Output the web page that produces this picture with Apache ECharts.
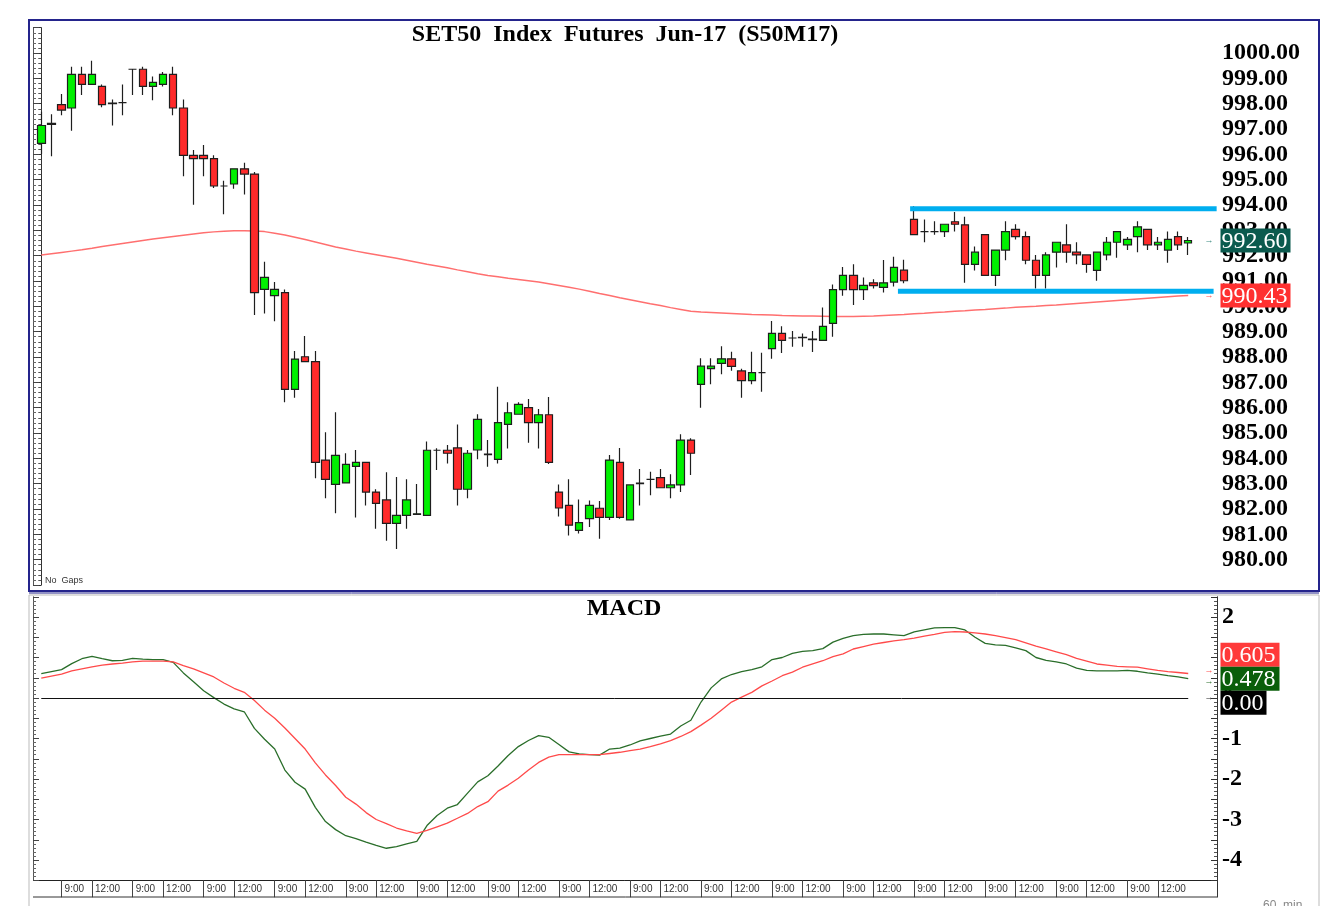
<!DOCTYPE html>
<html>
<head>
<meta charset="utf-8">
<script src="https://cdn.jsdelivr.net/npm/echarts@6/dist/echarts.min.js"></script>
<style>
html, body { margin: 0; padding: 0; background: #fff; }
#main { width: 1334px; height: 906px; }
</style>
</head>
<body>
<div id="main"></div>
<script>
// hourly bars, 2 bars of the previous afternoon then 16 full days
const firstBars = ['15:00', '16:00']
const dayHours = ['9:00', '10:00', '11:00', '12:00', '14:00', '15:00', '16:00']
const dayCount = 16

const opens = [996.43,997.18,997.96,997.83,999.16,998.76,998.68,998.00,998.04,999.36,
  999.36,998.68,998.76,999.16,997.83,995.96,995.96,995.83,994.75,994.83,
  995.43,995.22,990.67,990.42,990.54,986.72,988.01,987.82,983.93,982.97,
  983.03,983.68,983.84,982.67,982.36,981.43,981.75,981.79,981.75,984.32,
  984.32,984.41,982.78,984.33,984.17,983.96,985.34,985.74,986.00,985.41,
  985.72,982.67,982.14,981.16,981.62,982.03,981.67,983.84,981.57,983.00,
  983.17,983.24,982.84,982.95,984.72,986.92,987.54,987.75,987.93,987.45,
  987.07,987.38,988.33,988.93,988.75,988.76,988.71,988.66,989.33,990.66,
  991.22,990.66,990.93,990.75,990.96,991.43,993.43,992.95,992.95,992.95,
  993.34,993.22,991.66,992.83,991.22,992.22,993.04,992.75,991.82,991.22,
  992.14,992.43,992.14,992.03,991.42,992.03,992.53,992.43,992.75,993.04,
  992.43,992.22,992.75,992.50]
const closes = [997.14,997.22,997.75,999.16,998.76,999.16,997.96,998.02,998.04,999.36,
  998.68,998.84,999.16,997.83,995.96,995.83,995.83,994.75,994.75,995.43,
  995.22,990.54,991.14,990.67,986.72,987.92,987.82,983.84,983.17,984.12,
  983.76,983.84,982.67,982.22,981.43,981.75,982.36,981.81,984.32,984.32,
  984.20,982.78,984.20,985.54,984.15,985.41,985.80,986.13,985.41,985.72,
  983.84,982.04,981.36,981.46,982.14,981.67,983.93,981.67,982.95,983.02,
  983.17,982.84,982.95,984.72,984.20,987.64,987.64,987.93,987.63,987.07,
  987.38,987.38,988.93,988.66,988.75,988.78,988.69,989.21,990.66,991.22,
  990.66,990.83,990.82,990.93,991.54,991.01,992.83,992.95,992.95,993.24,
  993.24,991.66,992.14,991.22,992.22,992.95,992.75,991.82,991.22,992.03,
  992.53,992.14,992.03,991.66,992.14,992.53,992.95,992.64,993.14,992.43,
  992.53,992.64,992.43,992.60]
const lows = [996.01,995.93,997.54,996.93,998.34,998.76,997.86,997.14,997.54,998.34,
  998.34,998.14,998.68,997.54,995.14,994.01,995.14,994.67,993.64,994.64,
  994.42,989.66,989.72,989.41,986.21,986.39,987.82,983.21,982.42,981.83,
  983.03,981.66,982.14,981.22,980.75,980.42,981.22,981.79,981.75,983.54,
  983.80,982.14,982.42,983.96,983.67,983.80,984.39,985.74,984.62,984.39,
  983.78,981.70,980.95,981.03,981.29,980.83,981.57,981.62,981.57,982.14,
  982.54,982.84,982.42,982.67,983.34,986.00,986.92,987.32,987.46,986.39,
  986.92,986.63,987.93,988.16,988.41,988.41,988.20,988.66,988.80,990.42,
  990.05,990.25,990.70,990.55,990.78,990.91,992.83,992.53,992.83,992.74,
  992.95,990.93,991.42,991.22,990.80,991.82,992.64,991.66,990.70,990.70,
  991.53,991.72,991.66,991.33,991.01,991.82,991.92,992.22,992.14,992.22,
  992.22,991.72,992.22,992.03]
const highs = [997.68,997.58,998.38,999.46,999.46,999.70,998.76,998.17,998.76,999.36,
  999.46,999.07,999.25,999.46,998.17,996.17,996.37,995.96,994.96,995.43,
  995.67,995.30,991.76,990.96,990.67,988.24,988.83,988.24,985.03,985.82,
  984.20,984.33,983.84,982.78,983.45,983.26,983.17,982.99,984.66,984.40,
  984.53,985.34,984.33,985.74,984.72,986.83,986.21,986.21,986.34,985.95,
  986.42,982.97,983.17,982.38,982.34,982.32,984.13,984.41,982.95,983.58,
  983.47,983.58,983.37,984.95,984.79,987.95,987.95,988.42,988.21,987.54,
  988.21,988.17,989.42,989.21,989.03,988.93,989.03,989.95,990.86,991.55,
  991.66,991.14,991.07,991.83,991.96,991.84,993.95,993.43,993.36,993.24,
  993.72,993.54,992.36,992.83,992.22,993.36,993.24,992.95,992.03,992.14,
  992.53,993.24,992.53,992.03,992.14,992.74,992.95,992.74,993.36,993.04,
  992.74,992.95,992.95,992.74]

// long moving average drawn on the price panel
const maLine = [992.03,992.08,992.13,992.18,992.23,992.29,992.36,992.42,992.48,992.54,
  992.60,992.66,992.71,992.76,992.81,992.86,992.91,992.94,992.96,992.98,
  992.98,992.97,992.95,992.89,992.82,992.73,992.64,992.54,992.44,992.34,
  992.26,992.18,992.11,992.04,991.97,991.90,991.82,991.74,991.66,991.59,
  991.52,991.44,991.37,991.29,991.22,991.17,991.11,991.06,991.01,990.96,
  990.89,990.82,990.75,990.68,990.60,990.51,990.43,990.34,990.26,990.18,
  990.10,990.03,989.95,989.88,989.81,989.78,989.76,989.74,989.72,989.70,
  989.68,989.67,989.66,989.64,989.63,989.62,989.62,989.61,989.60,989.60,
  989.60,989.61,989.62,989.64,989.66,989.68,989.71,989.73,989.76,989.78,
  989.81,989.83,989.86,989.88,989.91,989.93,989.96,989.98,990.00,990.03,
  990.05,990.08,990.11,990.14,990.17,990.20,990.23,990.26,990.29,990.32,
  990.35,990.38,990.41,990.43]

const macdLine = [0.60,0.65,0.70,0.85,0.97,1.03,0.97,0.92,0.93,0.98,
  0.96,0.95,0.95,0.88,0.62,0.40,0.18,0.01,-0.15,-0.27,
  -0.34,-0.75,-1.02,-1.26,-1.78,-2.08,-2.25,-2.70,-3.05,-3.25,
  -3.40,-3.47,-3.56,-3.64,-3.71,-3.67,-3.60,-3.54,-3.15,-2.90,
  -2.72,-2.63,-2.35,-2.07,-1.92,-1.68,-1.42,-1.20,-1.05,-0.93,
  -0.97,-1.15,-1.33,-1.38,-1.40,-1.41,-1.26,-1.24,-1.16,-1.06,
  -1.00,-0.94,-0.89,-0.69,-0.55,-0.10,0.25,0.47,0.58,0.65,
  0.70,0.77,0.95,1.00,1.10,1.15,1.17,1.22,1.38,1.47,
  1.54,1.57,1.58,1.58,1.56,1.54,1.63,1.68,1.73,1.74,
  1.74,1.68,1.50,1.35,1.31,1.30,1.24,1.17,1.00,0.93,
  0.89,0.84,0.74,0.68,0.67,0.67,0.67,0.68,0.66,0.62,
  0.59,0.55,0.52,0.478]
const signalLine = [0.49,0.54,0.59,0.67,0.72,0.77,0.81,0.84,0.86,0.89,
  0.91,0.91,0.91,0.89,0.80,0.72,0.62,0.52,0.37,0.24,
  0.14,-0.06,-0.30,-0.50,-0.74,-1.00,-1.26,-1.60,-1.90,-2.16,
  -2.45,-2.62,-2.83,-3.00,-3.10,-3.21,-3.28,-3.34,-3.27,-3.18,
  -3.09,-2.97,-2.85,-2.68,-2.56,-2.30,-2.15,-1.98,-1.78,-1.59,
  -1.46,-1.40,-1.40,-1.40,-1.40,-1.40,-1.37,-1.34,-1.30,-1.26,
  -1.20,-1.13,-1.05,-0.95,-0.83,-0.67,-0.50,-0.30,-0.10,0.02,
  0.14,0.30,0.42,0.55,0.64,0.76,0.84,0.92,1.02,1.09,
  1.21,1.27,1.33,1.37,1.41,1.44,1.48,1.53,1.57,1.62,
  1.64,1.63,1.61,1.58,1.54,1.49,1.44,1.36,1.28,1.21,
  1.14,1.07,0.98,0.91,0.84,0.81,0.78,0.77,0.76,0.72,
  0.68,0.65,0.63,0.605]

// hand drawn range lines: [start bar, end bar, price]
const resistance = [85.6, 115.8, 993.85]
const support = [84.4, 115.5, 990.60]

const times = firstBars.slice()
for (let d = 0; d < dayCount; d++) dayHours.forEach(h => times.push(h))
const candles = opens.map((o, i) => [o, closes[i], lows[i], highs[i]])
const lastMa = maLine[maLine.length - 1]
const lastClose = closes[closes.length - 1]
const lastMacd = macdLine[macdLine.length - 1]
const lastSignal = signalLine[signalLine.length - 1]

const SLOTS = 116
const LEFT = 36.2
const WIDTH = 1177.4
const serif = '"Liberation Serif", "Times New Roman", serif'

const chart = echarts.init(document.getElementById('main'))

const isLabel = (idx, val) => val === '9:00' || val === '12:00'

const option = {
    animation: false,
    backgroundColor: '#fff',
    grid: [
        { left: LEFT, width: WIDTH, top: 27.7, height: 557.3 },
        { left: LEFT, width: WIDTH, top: 596.75, height: 283.5 }
    ],
    xAxis: [
        {
            type: 'category', gridIndex: 0, data: times, max: SLOTS - 1,
            axisLine: { show: false }, axisTick: { show: false }, axisLabel: { show: false },
            splitLine: { show: false }
        },
        {
            type: 'category', gridIndex: 1, data: times, max: SLOTS - 1,
            axisLine: { onZero: false, lineStyle: { color: '#222', width: 1 } },
            axisTick: { show: true, alignWithLabel: true, interval: isLabel, length: 17, lineStyle: { color: '#444' } },
            axisLabel: {
                interval: isLabel, align: 'left', margin: 4, padding: [0, 0, 0, 3],
                fontSize: 10, fontFamily: '"Liberation Sans", Arial, sans-serif', color: '#333',
                formatter: v => v || ''
            },
            splitLine: { show: false }
        },
        {
            type: 'value', gridIndex: 0, min: -0.5, max: SLOTS - 0.5, show: false
        }
    ],
    yAxis: [
        {
            type: 'value', gridIndex: 0, position: 'right', offset: 3.4,
            min: 979, max: 1001, interval: 1,
            axisLine: { show: true, lineStyle: { color: '#333' } },
            axisTick: { show: true, inside: true, length: 6, lineStyle: { color: '#333' } },
            minorTick: { show: true, splitNumber: 5, length: 3, lineStyle: { color: '#555' } },
            axisLabel: {
                margin: 5, fontSize: 24, fontWeight: 'bold', fontFamily: serif, color: '#000',
                formatter: v => (v >= 980 && v <= 1000) ? v.toFixed(2) : ''
            },
            splitLine: { show: false }
        },
        {
            type: 'value', gridIndex: 0, position: 'left', offset: 3.2,
            min: 979, max: 1001, interval: 1,
            axisLine: { show: true, lineStyle: { color: '#555' } },
            axisTick: { show: true, inside: true, length: 6, lineStyle: { color: '#444' } },
            minorTick: { show: true, splitNumber: 5, length: 3, lineStyle: { color: '#666' } },
            axisLabel: { show: false },
            splitLine: { show: false }
        },
        {
            type: 'value', gridIndex: 1, position: 'right', offset: 3.4,
            min: -4.5, max: 2.5, interval: 0.5,
            axisLine: { show: true, lineStyle: { color: '#333' } },
            axisTick: { show: true, inside: true, length: 6, lineStyle: { color: '#333' } },
            minorTick: { show: true, splitNumber: 5, length: 3, lineStyle: { color: '#555' } },
            axisLabel: {
                margin: 5, fontSize: 24, fontWeight: 'bold', fontFamily: serif, color: '#000',
                formatter: v => (Number.isInteger(v) && v >= -4 && v <= 2) ? String(v) : ''
            },
            splitLine: { show: false }
        },
        {
            type: 'value', gridIndex: 1, position: 'left', offset: 3.2,
            min: -4.5, max: 2.5, interval: 0.5,
            axisLine: { show: true, lineStyle: { color: '#555' } },
            axisTick: { show: true, inside: true, length: 6, lineStyle: { color: '#444' } },
            minorTick: { show: true, splitNumber: 5, length: 3, lineStyle: { color: '#666' } },
            axisLabel: { show: false },
            splitLine: { show: false }
        }
    ],
    series: [
        {
            name: 'MA', type: 'line', xAxisIndex: 0, yAxisIndex: 0, data: maLine,
            symbol: 'none', lineStyle: { color: '#ff6f6f', width: 1.5 }, z: 1
        },
        {
            name: 'S50M17', type: 'candlestick', xAxisIndex: 0, yAxisIndex: 0, data: candles,
            barWidth: 8,
            itemStyle: {
                color: '#00f000', color0: '#ff2a2a',
                borderColor: '#1e1e1e', borderColor0: '#1e1e1e', borderWidth: 1.2
            },
            z: 3
        },
        {
            name: 'resistance', type: 'line', xAxisIndex: 2, yAxisIndex: 0, clip: false,
            data: [[resistance[0], resistance[2]], [resistance[1], resistance[2]]],
            symbol: 'none', lineStyle: { color: '#00aeef', width: 5 }, z: 5
        },
        {
            name: 'support', type: 'line', xAxisIndex: 2, yAxisIndex: 0, clip: false,
            data: [[support[0], support[2]], [support[1], support[2]]],
            symbol: 'none', lineStyle: { color: '#00aeef', width: 5 }, z: 5
        },
        {
            name: 'MACD', type: 'line', xAxisIndex: 1, yAxisIndex: 2, data: macdLine,
            symbol: 'none', lineStyle: { color: '#2a6e2a', width: 1.3 },
            markLine: {
                silent: true, symbol: 'none', label: { show: false },
                lineStyle: { color: '#111', width: 1, type: 'solid' },
                data: [[{ coord: [0, 0] }, { coord: [macdLine.length - 1, 0] }]]
            }
        },
        {
            name: 'Signal', type: 'line', xAxisIndex: 1, yAxisIndex: 2, data: signalLine,
            symbol: 'none', lineStyle: { color: '#ff4a4a', width: 1.3 }
        }
    ]
}
chart.setOption(option)

// value badges on the right axes, on their own layer above the axis labels
function badge(x, yc, w, txt, bg) {
    return {
        type: 'group', zlevel: 2, z: 100,
        children: [
            { type: 'rect', zlevel: 2, z: 100, shape: { x: x, y: yc - 12, width: w, height: 24 }, style: { fill: bg } },
            {
                type: 'text', zlevel: 2, z: 101, x: x + 1, y: yc + 1,
                style: { text: txt, fill: '#fff', font: '24px ' + serif, textAlign: 'left', textVerticalAlign: 'middle', verticalAlign: 'middle' }
            }
        ]
    }
}
function arrow(x, y, color) {
    return { type: 'text', x: x, y: y, zlevel: 2, style: { text: '→', fill: color, font: '9px sans-serif', textAlign: 'center', textVerticalAlign: 'middle', verticalAlign: 'middle' } }
}
const py = v => chart.convertToPixel({ yAxisIndex: 0 }, v)
const my = v => chart.convertToPixel({ yAxisIndex: 2 }, v)
const yClose = py(lastClose), yMa = py(lastMa)
const yMid = my(lastMacd)
const ySig = Math.min(my(lastSignal), yMid - 24)
const yZero = Math.max(my(0), yMid + 24)

const frame = '#24248c'
chart.setOption({
    graphic: [
        { type: 'rect', z: 90, shape: { x: 29, y: 20, width: 1290, height: 571 }, style: { fill: 'none', stroke: frame, lineWidth: 2 } },
        { type: 'rect', z: 90, shape: { x: 29, y: 595, width: 1290, height: 330 }, style: { fill: 'none', stroke: '#bbb', lineWidth: 1 } },
        { type: 'line', z: 90, shape: { x1: 29, y1: 593, x2: 1319, y2: 593 }, style: { stroke: frame, lineWidth: 1 } },
        { type: 'line', z: 90, shape: { x1: 33, y1: 897, x2: 1218, y2: 897 }, style: { stroke: '#333', lineWidth: 1 } },
        { type: 'line', z: 90, shape: { x1: 1217.5, y1: 880, x2: 1217.5, y2: 897 }, style: { stroke: '#333', lineWidth: 1 } },
        {
            type: 'text', x: 625, y: 35, z: 100,
            style: { text: 'SET50  Index  Futures  Jun-17  (S50M17)', fill: '#000', font: 'bold 24px ' + serif, textAlign: 'center', textVerticalAlign: 'middle', verticalAlign: 'middle' }
        },
        {
            type: 'text', x: 624, y: 609, z: 100,
            style: { text: 'MACD', fill: '#000', font: 'bold 24px ' + serif, textAlign: 'center', textVerticalAlign: 'middle', verticalAlign: 'middle' }
        },
        {
            type: 'text', x: 45, y: 581, z: 100,
            style: { text: 'No  Gaps', fill: '#333', font: '9px "Liberation Sans", Arial, sans-serif', textVerticalAlign: 'middle', verticalAlign: 'middle' }
        },
        {
            type: 'text', x: 1263, y: 906, z: 100,
            style: { text: '60  min', fill: '#888', font: '12px "Liberation Sans", Arial, sans-serif', textVerticalAlign: 'middle', verticalAlign: 'middle' }
        },
        badge(1220.5, yClose, 70, lastClose.toFixed(2), '#0b5a4e'),
        badge(1220.5, yMa, 70, lastMa.toFixed(2), '#ff3030'),
        badge(1220.5, ySig, 59, lastSignal.toFixed(3), '#ff3a3a'),
        badge(1220.5, yMid, 59, lastMacd.toFixed(3), '#0a5e0a'),
        badge(1220.5, yZero, 46, '0.00', '#000'),
        arrow(1209, yClose, '#3a8a80'),
        arrow(1209, yMa, '#ff5050'),
        arrow(1209, my(lastSignal) - 3, '#ff5050'),
        arrow(1209, my(lastMacd) + 3, '#2a6e2a'),
        arrow(1209, my(0), '#222')
    ]
})
</script>
</body>
</html>
